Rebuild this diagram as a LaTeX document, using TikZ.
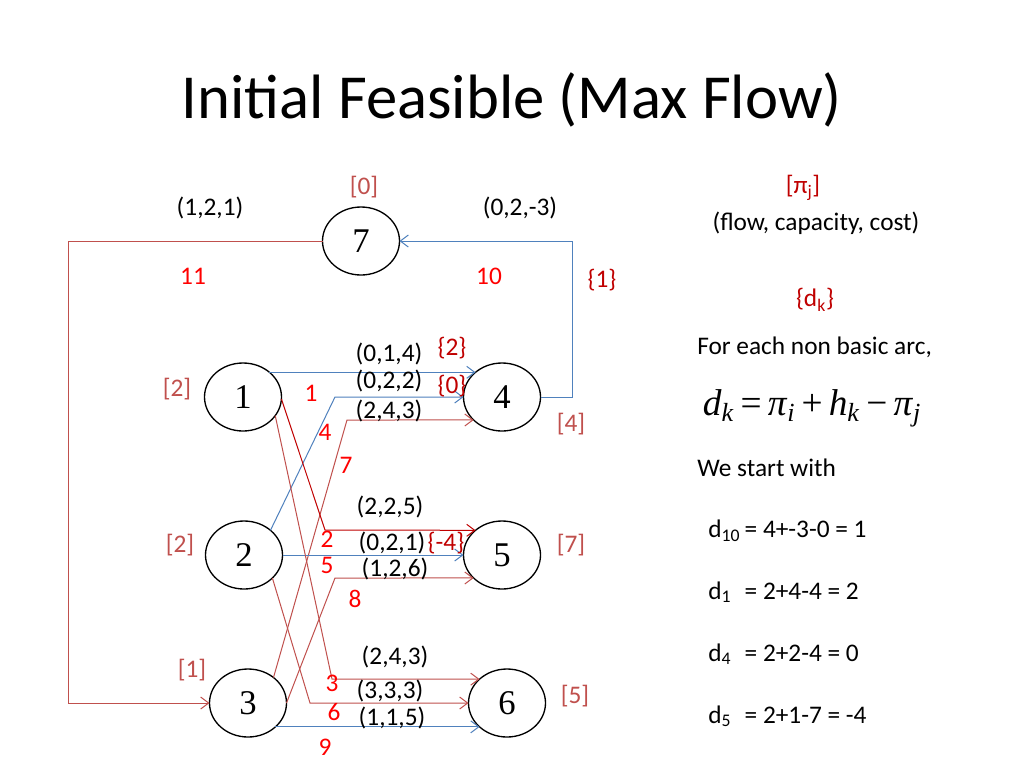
\documentclass[tikz,border=0pt]{standalone}
\usepackage{fontspec}
\setmainfont{Carlito}
\newfontfamily\timesfont{Liberation Serif}
\usepackage{xcolor}
\usetikzlibrary{shapes,arrows.meta}
\definecolor{arcblue}{HTML}{4F81BD}
\definecolor{arcred}{HTML}{C0504D}
\definecolor{arcdark}{HTML}{C00000}
\definecolor{potred}{HTML}{C0504D}
\definecolor{dualred}{HTML}{C00000}
\definecolor{numred}{HTML}{FF0000}
\newcommand{\dname}[1]{\makebox[23pt][l]{d\textsubscript{#1}}}

\begin{document}
\begin{tikzpicture}[x=0.75pt,y=-0.75pt]
  \tikzstyle{vertex}=[ellipse,draw,line width=1pt,minimum width=57.75pt,minimum height=51pt,inner sep=0pt,outer sep=0pt,font=\timesfont\fontsize{26}{30}\selectfont]
  \tikzstyle{lbl}=[inner sep=0pt,font=\fontsize{19}{23}\selectfont]
  \tikzstyle{arcno}=[lbl,text=numred]
  \tikzstyle{pot}=[lbl,text=potred]
  \tikzstyle{dual}=[lbl,text=dualred]
  \tikzstyle{barc}=[draw=arcblue,line width=0.75pt,-{Straight Barb[length=6pt,width=9pt]}]
  \tikzstyle{rarc}=[barc,draw=arcred]
  \useasboundingbox[fill=white] (0,0) rectangle (1024,768);
  \node[font=\fontsize{47}{56}\selectfont] (title) at (512,100) {Initial Feasible (Max Flow)};

  \node[vertex] (n7) at (361,241) {7};
  \node[vertex] (n1) at (243,397) {1};
  \node[vertex] (n2) at (244,555) {2};
  \node[vertex] (n3) at (248,703) {3};
  \node[vertex] (n4) at (502,397) {4};
  \node[vertex] (n5) at (502,555) {5};
  \node[vertex] (n6) at (507,703) {6};

  \coordinate (c4) at (335,397);
  \coordinate (c7) at (347,420);
  \coordinate (c2) at (325,530);
  \coordinate (c8) at (335,578);
  \coordinate (c3) at (332,679);
  \coordinate (c6) at (310,703);
  \coordinate (c10) at (572,241);
  \coordinate (c11) at (68,703);

  \draw[barc] (n1.43) -- (n4.137);
  \draw[barc] (n2.43) -- (c4) -- (n4.west);
  \draw[rarc] (n3.45) -- (c7) -- (n4.219);
  \draw[rarc,draw=arcdark] (n1.-3) -- (c2) -- (n5.137);
  \draw[barc] (n2.east) -- (n5.west);
  \draw[rarc] (n3.east) -- (c8) -- (n5.219);
  \draw[rarc] (n1.-30) -- (c3) -- (n6.139);
  \draw[rarc] (n2.-39) -- (c6) -- (n6.west);
  \draw[barc] (n3.-41) -- (n6.221);
  \draw[barc] (n4.east) -| (c10) -- (n7.east);
  \draw[rarc] (n7.west) -| (c11) -- (n3.west);

  \node[pot] (p7) at (364,187) {[0]};
  \node[lbl] (f11) at (210,208) {(1,2,1)};
  \node[lbl] (f10) at (520,208) {(0,2,-3)};
  \node[arcno] (a11) at (193,276) {11};
  \node[arcno] (a10) at (489,276) {10};
  \node[dual] (d10) at (602,280) {\{1\}};
  \node[pot] (p1) at (177,389) {[2]};
  \node[arcno] (a1) at (311,393) {1};
  \node[lbl] (f1) at (389,354) {(0,1,4)};
  \node[dual] (d1) at (452,348) {\{2\}};
  \node[lbl] (f4) at (389,381) {(0,2,2)};
  \node[dual] (d4) at (452,386) {\{0\}};
  \node[lbl] (f7) at (389,411) {(2,4,3)};
  \node[arcno] (a4) at (325,432) {4};
  \node[arcno] (a7) at (346,465) {7};
  \node[pot] (p4) at (571,424) {[4]};
  \node[lbl] (f2) at (390,507) {(2,2,5)};
  \node[pot] (p2) at (180,545) {[2]};
  \node[arcno] (a2) at (327,539) {2};
  \node[lbl] (f5) at (392,543) {(0,2,1)};
  \node[dual] (d5) at (446,543) {\{-4\}};
  \node[arcno] (a5) at (327,565) {5};
  \node[lbl] (f8) at (395,569) {(1,2,6)};
  \node[pot] (p5) at (571,545) {[7]};
  \node[arcno] (a8) at (355,599) {8};
  \node[lbl] (f3) at (395,657) {(2,4,3)};
  \node[pot] (p3) at (192,670) {[1]};
  \node[arcno] (a3) at (332,683) {3};
  \node[lbl] (f6) at (390,691) {(3,3,3)};
  \node[arcno] (a6) at (334,712) {6};
  \node[lbl] (f9) at (392,718) {(1,1,5)};
  \node[pot] (p6) at (575,696) {[5]};
  \node[arcno] (a9) at (325,747) {9};

  \node[dual] (pij) at (803,188) {[π\textsubscript{j}]};
  \node[lbl] (legend) at (816,223) {(flow, capacity, cost)};
  \node[dual] (dk) at (815,300) {\{d\textsubscript{k}\}};
  \node[lbl,anchor=west] (rule) at (697,347) {For each non basic arc,};
  \node[font=\timesfont\fontsize{28}{32}\selectfont] (formula) at (812,408) {\textit{d}\textsubscript{\textit{k}}\,=\,\textit{π}\textsubscript{\textit{i}}\,+\,\textit{h}\textsubscript{\textit{k}}\,−\,\textit{π}\textsubscript{\textit{j}}};
  \node[lbl,anchor=west] (start) at (697,468) {We start with};
  \node[lbl,anchor=west] (dd10) at (708,531) {\dname{10} = 4+-3-0 = 1};
  \node[lbl,anchor=west] (dd1) at (708,592) {\dname{1} = 2+4-4 = 2};
  \node[lbl,anchor=west] (dd4) at (708,654) {\dname{4} = 2+2-4 = 0};
  \node[lbl,anchor=west] (dd5) at (708,716) {\dname{5} = 2+1-7 = -4};
\end{tikzpicture}
\end{document}
